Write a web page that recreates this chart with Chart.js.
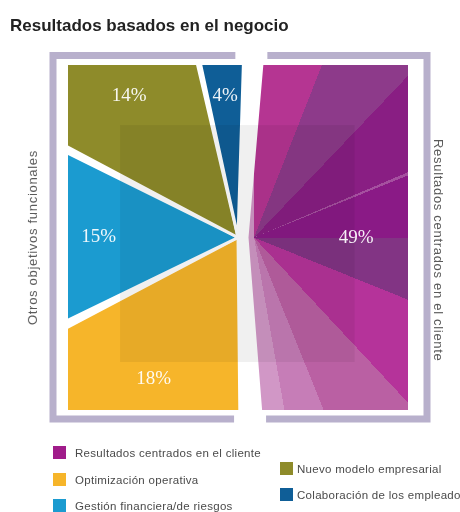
<!DOCTYPE html>
<html>
<head>
<meta charset="utf-8">
<script src="https://cdn.jsdelivr.net/npm/chart.js@4.4.1/dist/chart.umd.min.js"></script>
<style>
  body { margin: 0; background: #fff; font-family: "Liberation Sans", Arial, sans-serif; }
  #wrap { position: relative; width: 460px; height: 512px; overflow: hidden; }
  #chartBox { position: absolute; left: 0; top: 0; width: 460px; height: 512px; }
  #titulo { position: absolute; left: 10px; top: 16px; font-weight: bold; font-size: 17px; color: #222; white-space: nowrap; }
  .vert { position: absolute; width: 16px; height: 345px; line-height: 16px; font-size: 13px; letter-spacing: 0.7px;
          color: #5a5a5a; white-space: nowrap; writing-mode: vertical-rl; text-align: center; }
  #izq { left: 25px; top: 65px; transform: rotate(180deg); }
  #der { left: 430px; top: 78px; }
  .item { position: absolute; height: 14px; font-size: 11.5px; letter-spacing: 0.3px; color: #4a4a4a; white-space: nowrap; line-height: 14px; }
  .item span { display: inline-block; width: 13px; height: 13px; vertical-align: top; margin-right: 9px; }
  .item.der span { margin-right: 4px; }
</style>
</head>
<body>
<div id="wrap">
  <div id="chartBox"><canvas id="negocioChart"></canvas></div>
  <div id="titulo">Resultados basados en el negocio</div>
  <div class="vert" id="izq">Otros objetivos funcionales</div>
  <div class="vert" id="der">Resultados centrados en el cliente</div>
  <div id="leyenda"></div>
</div>
<script>
// Datos del gráfico
var categorias = ['Resultados centrados en el cliente', 'Optimización operativa', 'Gestión financiera/de riesgos', 'Nuevo modelo empresarial', 'Colaboración de los empleado'];
var porcentajes = [49, 18, 15, 14, 4];
var colores = ['#a01c8a', '#f6b52a', '#1b9bd0', '#8e8b2a', '#0f5e97'];

// Facetas del sector magenta (gradiente cónico)
function facetas(chart) {
  var a = chart.chartArea;
  if (!a) return colores[0];
  var cx = (a.left + a.right) / 2 + 8, cy = (a.top + a.bottom) / 2;
  var g = chart.ctx.createConicGradient(-Math.PI / 2, cx, cy);
  var tramos = [[0, 21.5, '#b53592'], [21.5, 43.6, '#8d3a8a'], [43.6, 67, '#891e83'], [67, 68, '#a5509f'],
    [68, 90, '#8a1a86'], [90, 112, '#823484'], [112, 137, '#b5339a'], [137, 158, '#ba60a3'],
    [158, 170, '#c67db7'], [170, 360, '#d197c6']];
  tramos.forEach(function (t) {
    g.addColorStop(t[0] / 360, t[2]);
    g.addColorStop(t[1] / 360, t[2]);
  });
  return g;
}

// Marco lila alrededor
var marco = {
  id: 'marco',
  beforeDatasetsDraw: function (chart) {
    var a = chart.chartArea, c = chart.ctx;
    var arcs = chart.getDatasetMeta(0).data;
    var cx = (a.left + a.right) / 2, cy = (a.top + a.bottom) / 2;
    var izq = a.left - 15, der = a.right + 19, arr = a.top - 9.5, abj = a.bottom + 9;
    function rayoX(ang, y) { return cx + (y - cy) * Math.cos(ang) / Math.sin(ang); }
    var gArr = rayoX(arcs[0].startAngle, arr) + 7;
    var gAbj = rayoX(arcs[0].endAngle, abj) + 7;
    c.save();
    c.strokeStyle = '#b8b0cc';
    c.lineWidth = 7;
    c.lineJoin = 'miter';
    c.beginPath(); c.moveTo(gArr - 16, arr); c.lineTo(izq, arr); c.lineTo(izq, abj); c.lineTo(gAbj - 16, abj); c.stroke();
    c.beginPath(); c.moveTo(gArr + 16, arr); c.lineTo(der, arr); c.lineTo(der, abj); c.lineTo(gAbj + 16, abj); c.stroke();
    c.restore();
  }
};

// Cuadro gris translúcido del centro
var sombra = {
  id: 'sombra',
  afterDatasetsDraw: function (chart) {
    var a = chart.chartArea, c = chart.ctx;
    var w = a.right - a.left, h = a.bottom - a.top;
    c.save();
    c.fillStyle = 'rgba(0,0,0,0.06)';
    c.fillRect(a.left + w * 0.153, a.top + h * 0.174, w * 0.69, h * 0.687);
    c.restore();
  }
};

// Porcentajes dentro de cada sector
var rotulos = {
  id: 'rotulos',
  afterDatasetsDraw: function (chart) {
    var a = chart.chartArea, c = chart.ctx;
    var arcs = chart.getDatasetMeta(0).data;
    c.save();
    c.fillStyle = 'rgba(255,255,255,0.93)';
    c.font = '19px "Liberation Serif", serif';
    c.textAlign = 'center';
    c.textBaseline = 'middle';
    arcs.forEach(function (arc, i) {
      var mid = (arc.startAngle + arc.endAngle) / 2;
      var dx = Math.cos(mid), dy = Math.sin(mid);
      var x0 = arc.x + (i === 0 ? 8 : 0), y0 = arc.y;
      var tx = dx > 0 ? (a.right - x0) / dx : dx < 0 ? (a.left - x0) / dx : Infinity;
      var ty = dy > 0 ? (a.bottom - y0) / dy : dy < 0 ? (a.top - y0) / dy : Infinity;
      var t = Math.min(tx, ty) * (i === 0 ? 0.68 : 0.82);
      c.fillText(porcentajes[i] + '%', x0 + dx * t, y0 + dy * t);
    });
    c.restore();
  }
};

var negocioCtx = document.getElementById('negocioChart').getContext('2d');
var negocioChart = new Chart(negocioCtx, {
  type: 'pie',
  data: {
    labels: categorias,
    datasets: [{
      data: porcentajes,
      backgroundColor: function (c) { return c.dataIndex === 0 ? facetas(c.chart) : colores[c.dataIndex]; },
      borderColor: '#fff',
      borderWidth: function (c) { return c.dataIndex === 0 ? 5 : 3; },
      offset: function (c) { return c.dataIndex === 0 ? 32 : 0; },
      spacing: 8,
      radius: '170%',
      clip: 0
    }]
  },
  options: {
    responsive: true,
    maintainAspectRatio: false,
    animation: false,
    rotation: 2,
    layout: { padding: { left: 68, top: 65, right: 52, bottom: 102 } },
    plugins: { legend: { display: false }, tooltip: { enabled: false } }
  },
  plugins: [marco, sombra, rotulos]
});

// Leyenda en dos columnas
var leyenda = document.getElementById('leyenda');
categorias.forEach(function (nombre, i) {
  var d = document.createElement('div');
  d.className = 'item';
  if (i < 3) { d.style.left = '53px'; d.style.top = (446 + i * 26.5) + 'px'; }
  else { d.className += ' der'; d.style.left = '280px'; d.style.top = (462 + (i - 3) * 26) + 'px'; }
  d.innerHTML = '<span style="background:' + colores[i] + '"></span>' + nombre;
  leyenda.appendChild(d);
});
</script>
</body>
</html>
